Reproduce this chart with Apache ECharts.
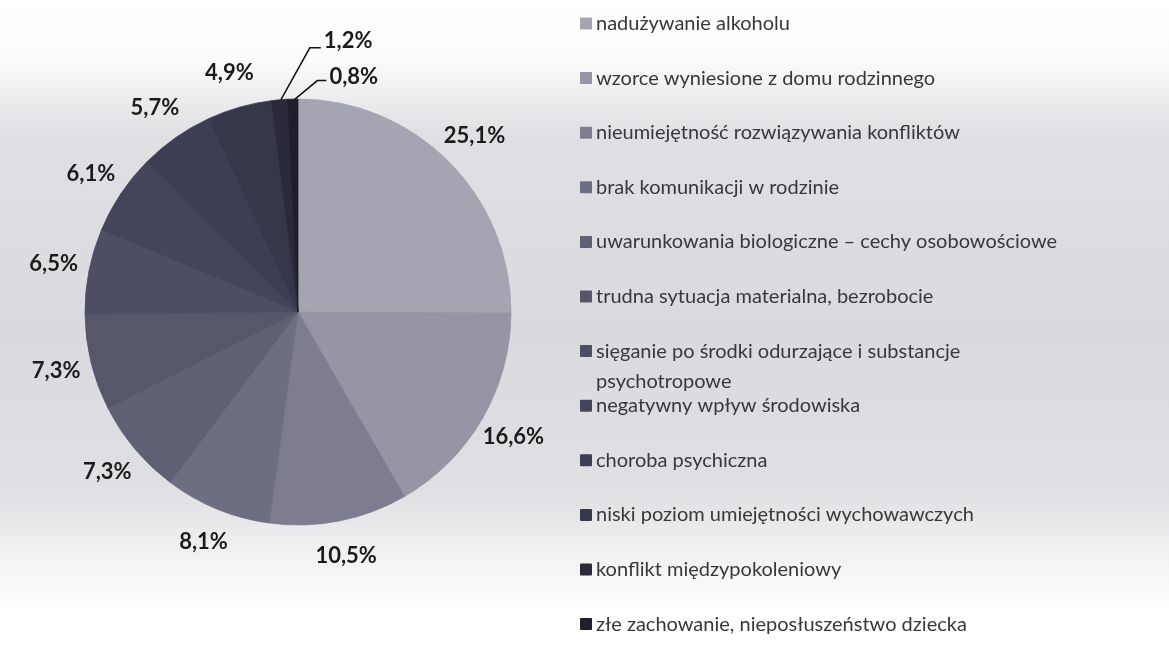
<!DOCTYPE html>
<html>
<head>
<meta charset="utf-8">
<script src="https://cdn.jsdelivr.net/npm/echarts@6/dist/echarts.min.js"></script>
<style>
html,body{margin:0;padding:0;background:#fff;}
#chart{width:1169px;height:664px;}
</style>
</head>
<body>
<div id="chart"></div>
<script>
// ---- data ----
const categories = [
  'nadużywanie alkoholu',
  'wzorce wyniesione z domu rodzinnego',
  'nieumiejętność rozwiązywania konfliktów',
  'brak komunikacji w rodzinie',
  'uwarunkowania biologiczne – cechy osobowościowe',
  'trudna sytuacja materialna, bezrobocie',
  'sięganie po środki odurzające i substancje psychotropowe',
  'negatywny wpływ środowiska',
  'choroba psychiczna',
  'niski poziom umiejętności wychowawczych',
  'konflikt międzypokoleniowy',
  'złe zachowanie, nieposłuszeństwo dziecka'
];
const values = [25.1, 16.6, 10.5, 8.1, 7.3, 7.3, 6.5, 6.1, 5.7, 4.9, 1.2, 0.8];

// ---- style ----
const palette = ['#a5a5b1','#9595a4','#7d7d8f','#6e6e82','#606075','#57576c',
                 '#4d4d63','#44445a','#3d3d53','#37374c','#2a2a3b','#1f1f2c'];
const labelFont = 'Lato, "Open Sans", sans-serif';

const fmt = v => v.toFixed(1).replace('.', ',') + '%';

const chart = echarts.init(document.getElementById('chart'), null, {renderer: 'canvas'});

const legends = categories.map((name, i) => ({
  data: [name],
  orient: 'vertical',
  left: 575,
  top: 18.5 + 54.6 * i - (name.length > 50 ? 45 : 15),
  icon: 'rect',
  itemWidth: 10,
  itemHeight: 10,
  selectedMode: false,
  textStyle: {fontFamily: labelFont, fontSize: 20, color: '#383838', lineHeight: 30},
  formatter: n => n.length > 50 ? '\n' + n.replace(' psychotropowe', '\npsychotropowe') : n
}));

const option = {
  animation: false,
  backgroundColor: {
    type: 'linear', x: 0, y: 0, x2: 0, y2: 1,
    colorStops: [
      {offset: 0, color: '#ffffff'},
      {offset: 0.09, color: '#fbfbfb'},
      {offset: 0.2, color: '#e0e0e4'},
      {offset: 0.5, color: '#dadade'},
      {offset: 0.74, color: '#e0e0e4'},
      {offset: 0.85, color: '#f4f4f4'},
      {offset: 0.92, color: '#ffffff'},
      {offset: 1, color: '#ffffff'}
    ]
  },
  color: palette,
  legend: legends,
  series: [{
    type: 'pie',
    center: [298, 312],
    radius: 213,
    startAngle: 90,
    clockwise: true,
    avoidLabelOverlap: false,
    emphasis: {scale: false},
    label: {
      show: true,
      position: 'outside',
      formatter: p => fmt(p.value),
      fontFamily: labelFont,
      fontWeight: 'bold',
      fontSize: 22,
      color: '#1b1b1b',
      distanceToLabelLine: 0
    },
    labelLine: {show: false, length: 36, length2: 0},
    data: categories.map((name, i) => ({
      name: name,
      value: values[i],
      itemStyle: {borderColor: palette[i], borderWidth: 0.8},
      labelLine: (i === 10 || i === 11) ? {show: true, lineStyle: {color: '#111', width: 1.5}} : {show: false}
    })),
    labelLayout: function (params) {
      const r = params.rect;
      if (params.dataIndex === 10) {
        const sx = r.x + r.width * 0.36, sy = r.y + 1;
        return {
          x: sx + 43, y: sy - 59, align: 'left', verticalAlign: 'middle',
          labelLinePoints: [[sx, sy], [sx + 29, sy - 52], [sx + 40, sy - 52]]
        };
      }
      if (params.dataIndex === 11) {
        const sx = r.x + r.width * 0.65, sy = r.y + 1;
        return {
          x: sx + 35, y: sy - 23, align: 'left', verticalAlign: 'middle',
          labelLinePoints: [[sx, sy], [sx + 23, sy - 19], [sx + 32, sy - 19]]
        };
      }
      return {align: 'center', verticalAlign: 'middle'};
    }
  }]
};
chart.setOption(option);
</script>
</body>
</html>
